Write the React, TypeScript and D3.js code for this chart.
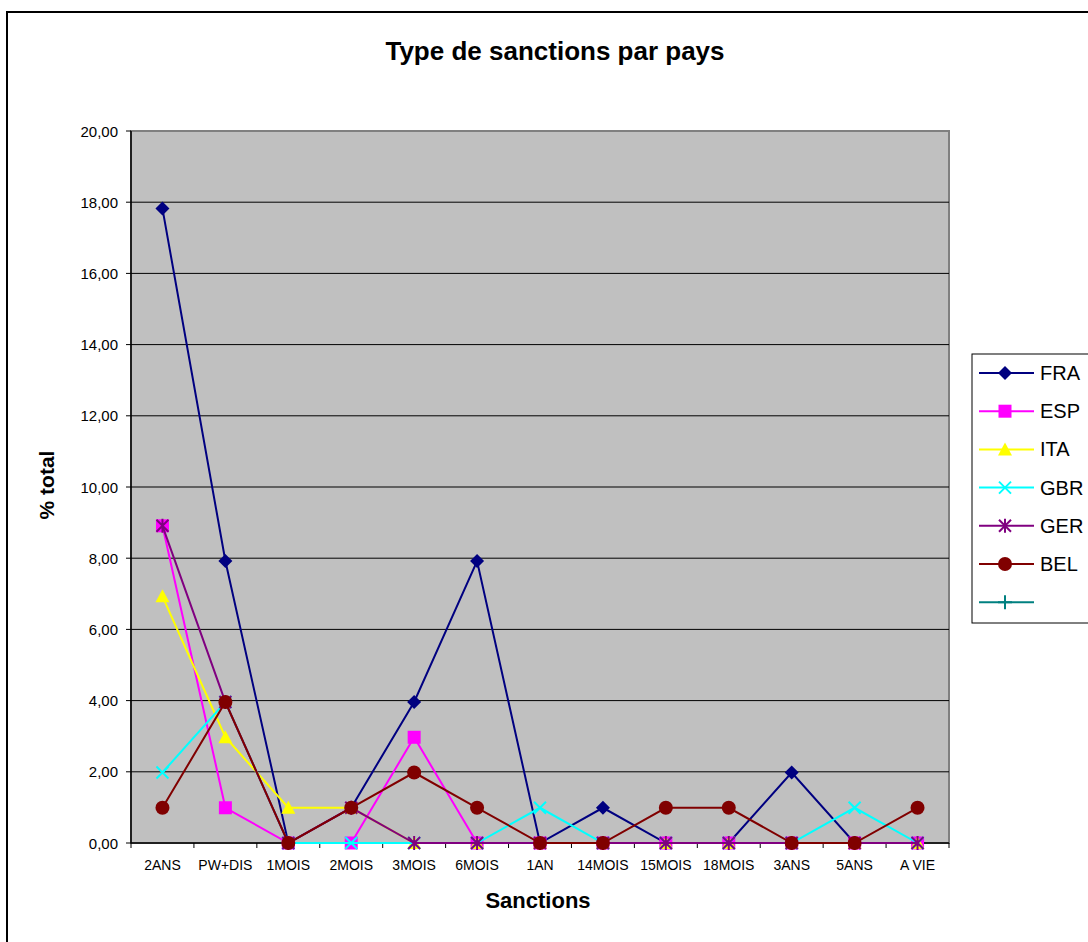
import React from "react";
import * as d3 from "d3";

const categories = ["2ANS", "PW+DIS", "1MOIS", "2MOIS", "3MOIS", "6MOIS", "1AN", "14MOIS", "15MOIS", "18MOIS", "3ANS", "5ANS", "A VIE"];

const FRA = [17.82, 7.92, 0, 0.99, 3.96, 7.92, 0, 0.99, 0, 0, 1.98, 0, 0];
const ESP = [8.91, 0.99, 0, 0, 2.97, 0, 0, 0, 0, 0, 0, 0, 0];
const ITA = [6.93, 2.97, 0.99, 0.99, 0, 0, 0, 0, 0, 0, 0, 0, 0];
const GBR = [1.98, 3.96, 0, 0, 0, 0, 0.99, 0, 0, 0, 0, 0.99, 0];
const GER = [8.91, 3.96, 0, 0.99, 0, 0, 0, 0, 0, 0, 0, 0, 0];
const BEL = [0.99, 3.96, 0, 0.99, 1.98, 0.99, 0, 0, 0.99, 0.99, 0, 0, 0.99];
const EMPTY: number[] = [];

const yTicks = [0, 2, 4, 6, 8, 10, 12, 14, 16, 18, 20];

type Marker = "diamond" | "square" | "triangle" | "x" | "star" | "circle" | "plus";

const series: { name: string; values: number[]; color: string; marker: Marker }[] = [
  { name: "FRA", values: FRA, color: "#000080", marker: "diamond" },
  { name: "ESP", values: ESP, color: "#FF00FF", marker: "square" },
  { name: "ITA", values: ITA, color: "#FFFF00", marker: "triangle" },
  { name: "GBR", values: GBR, color: "#00FFFF", marker: "x" },
  { name: "GER", values: GER, color: "#800080", marker: "star" },
  { name: "BEL", values: BEL, color: "#800000", marker: "circle" },
  { name: "", values: EMPTY, color: "#008080", marker: "plus" },
];

const FONT = "'Liberation Sans', Arial, sans-serif";

const plot = { left: 131, right: 949, top: 131, bottom: 843 };

function MarkerShape({ type, x, y, color }: { type: Marker; x: number; y: number; color: string }) {
  switch (type) {
    case "diamond":
      return <path d={`M${x},${y - 7}L${x + 7},${y}L${x},${y + 7}L${x - 7},${y}Z`} fill={color} />;
    case "square":
      return <rect x={x - 6.5} y={y - 6.5} width={13} height={13} fill={color} />;
    case "triangle":
      return <path d={`M${x},${y - 7}L${x + 7},${y + 6}L${x - 7},${y + 6}Z`} fill={color} />;
    case "x":
      return (
        <path d={`M${x - 6},${y - 6}L${x + 6},${y + 6}M${x - 6},${y + 6}L${x + 6},${y - 6}`} stroke={color} strokeWidth={2} />
      );
    case "star":
      return (
        <path
          d={`M${x - 6},${y - 6}L${x + 6},${y + 6}M${x - 6},${y + 6}L${x + 6},${y - 6}M${x},${y - 7}L${x},${y + 7}`}
          stroke={color}
          strokeWidth={2}
        />
      );
    case "circle":
      return <circle cx={x} cy={y} r={7} fill={color} />;
    case "plus":
      return <path d={`M${x - 7},${y}L${x + 7},${y}M${x},${y - 7}L${x},${y + 7}`} stroke={color} strokeWidth={2} />;
  }
}

export default function App() {
  const x = d3.scaleBand<string>().domain(categories).range([plot.left, plot.right]);
  const y = d3.scaleLinear().domain([0, 20]).range([plot.bottom, plot.top]);
  const cx = (c: string) => (x(c) ?? 0) + x.bandwidth() / 2;
  const line = d3
    .line<number>()
    .x((_, i) => cx(categories[i]))
    .y((v) => y(v));
  const fmt = (v: number) => v.toFixed(2).replace(".", ",");
  const boundaries = d3.range(categories.length + 1).map((i) => plot.left + i * x.bandwidth());

  const legend = { x: 972, y: 354, w: 130, h: 269 };

  return (
    <svg width={1088} height={942} style={{ position: "absolute", left: 0, top: 0, fontFamily: FONT }}>
      <rect x={0} y={0} width={1088} height={942} fill="#fff" />
      <rect x={7} y={12} width={1200} height={1100} fill="#fff" stroke="#000" strokeWidth={2} />

      <text x={555} y={60} textAnchor="middle" fontSize={26} fontWeight="bold" fill="#000">
        Type de sanctions par pays
      </text>

      <rect
        x={plot.left}
        y={plot.top}
        width={plot.right - plot.left}
        height={plot.bottom - plot.top}
        fill="#C0C0C0"
        stroke="#808080"
        strokeWidth={2}
      />

      {yTicks.slice(1, -1).map((t) => (
        <line key={t} x1={plot.left} x2={plot.right} y1={y(t)} y2={y(t)} stroke="#000" strokeWidth={1} />
      ))}

      {/* axes */}
      <line x1={plot.left} x2={plot.left} y1={plot.top} y2={plot.bottom} stroke="#000" strokeWidth={1.5} />
      <line x1={plot.left} x2={plot.right} y1={plot.bottom} y2={plot.bottom} stroke="#000" strokeWidth={1.5} />
      {yTicks.map((t) => (
        <g key={t}>
          <line x1={plot.left - 5} x2={plot.left} y1={y(t)} y2={y(t)} stroke="#000" />
          <text x={118} y={y(t) + 5.5} textAnchor="end" fontSize={15} fill="#000">
            {fmt(t)}
          </text>
        </g>
      ))}
      {boundaries.map((b, i) => (
        <line key={i} x1={b} x2={b} y1={plot.bottom} y2={plot.bottom + 5} stroke="#000" />
      ))}
      {categories.map((c) => (
        <text key={c} x={cx(c)} y={870} textAnchor="middle" fontSize={14} fill="#000">
          {c}
        </text>
      ))}

      <text x={538} y={908} textAnchor="middle" fontSize={22} fontWeight="bold" fill="#000">
        Sanctions
      </text>
      <text
        transform={`translate(54,485) rotate(-90)`}
        textAnchor="middle"
        fontSize={21}
        fontWeight="bold"
        fill="#000"
      >
        % total
      </text>

      {series.map((s) => (
        <g key={s.name || "blank"}>
          {s.values.length > 0 && (
            <path d={line(s.values) ?? ""} fill="none" stroke={s.color} strokeWidth={2} />
          )}
          {s.values.map((v, i) => (
            <MarkerShape key={i} type={s.marker} x={cx(categories[i])} y={y(v)} color={s.color} />
          ))}
        </g>
      ))}

      {/* legend */}
      <rect x={legend.x} y={legend.y} width={legend.w} height={legend.h} fill="#fff" stroke="#000" strokeWidth={1} />
      {series.map((s, i) => {
        const ly = 373 + i * 38.2;
        return (
          <g key={`lg${i}`}>
            <line x1={979} x2={1034} y1={ly} y2={ly} stroke={s.color} strokeWidth={2} />
            <MarkerShape type={s.marker} x={1005} y={ly} color={s.color} />
            <text x={1040} y={ly + 7} fontSize={20} fill="#000">
              {s.name}
            </text>
          </g>
        );
      })}
    </svg>
  );
}
